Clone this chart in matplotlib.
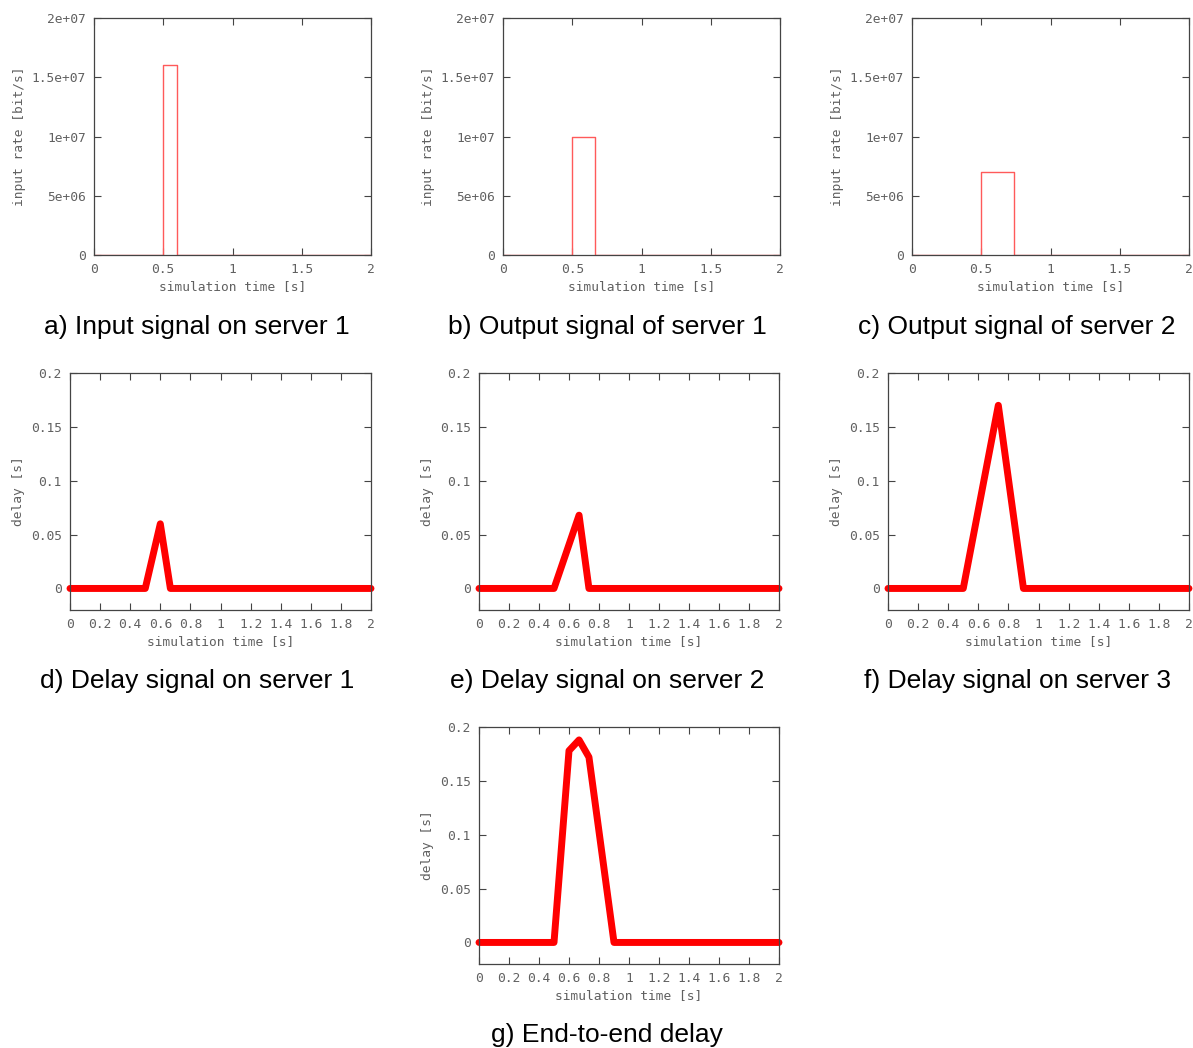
import matplotlib
matplotlib.use("Agg")
import matplotlib.pyplot as plt
import numpy as np

W, H = 1193, 1048

# rate pulses: start time, end time, rate [bit/s]
rate_start = [0.5, 0.5, 0.5]
rate_end = [0.6, 0.667, 0.733]
rate_value = [1.6e7, 1.0e7, 7.0e6]
rate_titles = ["a) Input signal on server 1",
               "b) Output signal of server 1",
               "c) Output signal of server 2"]

# delay curves (vertices)
delay1_t = [0.0, 0.5, 0.6, 0.667, 2.0]
delay1_d = [0.0, 0.0, 0.06, 0.0, 0.0]
delay2_t = [0.0, 0.5, 0.667, 0.733, 2.0]
delay2_d = [0.0, 0.0, 0.068, 0.0, 0.0]
delay3_t = [0.0, 0.5, 0.733, 0.9, 2.0]
delay3_d = [0.0, 0.0, 0.17, 0.0, 0.0]
e2e_t = [0.0, 0.5, 0.6, 0.667, 0.733, 0.9, 2.0]
e2e_d = [0.0, 0.0, 0.178, 0.188, 0.172, 0.0, 0.0]

delay_titles = ["d) Delay signal on server 1",
                "e) Delay signal on server 2",
                "f) Delay signal on server 3",
                "g) End-to-end delay"]

rate_yticks = [0, 5e6, 1e7, 1.5e7, 2e7]
rate_ylabels = ["0", "5e+06", "1e+07", "1.5e+07", "2e+07"]
rate_xticks = [0, 0.5, 1, 1.5, 2]
rate_xlabels = ["0", "0.5", "1", "1.5", "2"]
delay_yticks = [0, 0.05, 0.1, 0.15, 0.2]
delay_ylabels = ["0", "0.05", "0.1", "0.15", "0.2"]
delay_xticks = [0, 0.2, 0.4, 0.6, 0.8, 1, 1.2, 1.4, 1.6, 1.8, 2]
delay_xlabels = ["0", "0.2", "0.4", "0.6", "0.8", "1", "1.2", "1.4", "1.6", "1.8", "2"]

GREY = "#606060"
FRAME = "#444444"
SMALL = dict(family="DejaVu Sans Mono", size=9.3, color=GREY)

fig = plt.figure(figsize=(W / 100, H / 100), dpi=100)


def make_axes(x0, y0, x1, y1):
    # pixel box -> figure fraction
    ax = fig.add_axes([x0 / W, 1 - y1 / H, (x1 - x0) / W, (y1 - y0) / H])
    for s in ax.spines.values():
        s.set_color(FRAME)
        s.set_linewidth(0.9)
    ax.tick_params(direction="in", length=5, width=0.8, color=FRAME,
                   top=True, right=True, pad=6)
    return ax


def style_labels(ax, xt, xl, yt, yl, ylabel):
    ax.set_xticks(xt)
    ax.set_xticklabels(xl, fontdict=SMALL)
    ax.set_yticks(yt)
    ax.set_yticklabels(yl, fontdict=SMALL)
    ax.set_xlabel("simulation time [s]", fontdict=SMALL, labelpad=3)
    ax.set_ylabel(ylabel, fontdict=SMALL, labelpad=4)


cell_centers = [197, 607, 1017]
CAPTION = dict(ha="center", va="center", family="Liberation Sans", size=19)

# top row: rate pulses
rate_left = [94, 503, 912]
for i in range(3):
    ax = make_axes(rate_left[i], 18, rate_left[i] + 277, 255)
    t = [0, rate_start[i], rate_start[i], rate_end[i], rate_end[i], 2]
    r = [0, 0, rate_value[i], rate_value[i], 0, 0]
    ax.plot(t, r, color="#ff5a5a", lw=1.0)
    ax.set_xlim(0, 2)
    ax.set_ylim(0, 2e7)
    style_labels(ax, rate_xticks, rate_xlabels, rate_yticks, rate_ylabels,
                 "input rate [bit/s]")
    fig.text(cell_centers[i] / W, 1 - 327 / H, rate_titles[i], **CAPTION)

# delay panels
delay_series = [(delay1_t, delay1_d), (delay2_t, delay2_d),
                (delay3_t, delay3_d), (e2e_t, e2e_d)]
delay_boxes = [(70, 373, 371, 610), (479, 373, 779, 610),
               (888, 373, 1189, 610), (479, 727, 779, 964)]
title_pos = [(197, 681), (607, 681), (1017, 681), (607, 1035)]
for (t, d), box, title, pos in zip(delay_series, delay_boxes, delay_titles, title_pos):
    ax = make_axes(*box)
    ax.plot(t, d, color="#ff0000", lw=5, solid_joinstyle="round",
            solid_capstyle="round", clip_on=False)
    ax.set_xlim(0, 2)
    ax.set_ylim(-0.02, 0.2)
    style_labels(ax, delay_xticks, delay_xlabels, delay_yticks, delay_ylabels,
                 "delay [s]")
    fig.text(pos[0] / W, 1 - pos[1] / H, title, **CAPTION)

fig.savefig("out.png", dpi=100)
